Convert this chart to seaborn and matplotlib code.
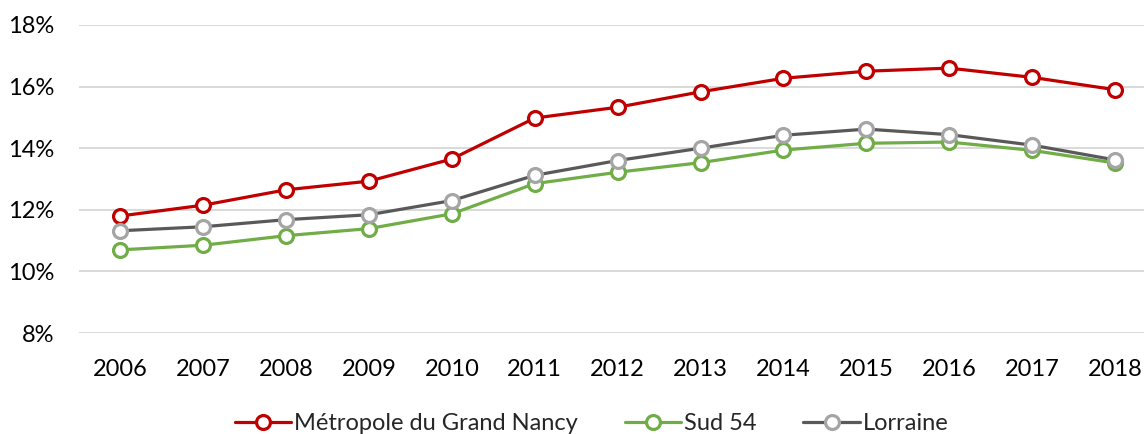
import pandas as pd
import seaborn as sns
import matplotlib.pyplot as plt
from matplotlib.ticker import FuncFormatter

annees = [2006, 2007, 2008, 2009, 2010, 2011, 2012, 2013, 2014, 2015, 2016, 2017, 2018]
nancy = [11.8, 12.15, 12.65, 12.93, 13.65, 14.98, 15.33, 15.83, 16.27, 16.5, 16.6, 16.3, 15.9]
sud54 = [10.7, 10.85, 11.16, 11.39, 11.87, 12.85, 13.22, 13.53, 13.94, 14.16, 14.2, 13.93, 13.52]
lorraine = [11.32, 11.45, 11.68, 11.84, 12.3, 13.12, 13.6, 14.0, 14.42, 14.62, 14.44, 14.1, 13.62]

series = ['Métropole du Grand Nancy', 'Sud 54', 'Lorraine']
couleurs_ligne = ['#C00000', '#70AD47', '#595959']
couleurs_bord = ['#C00000', '#70AD47', '#A5A5A5']

dados = pd.DataFrame({'annee': annees * 3,
                      'valeur': nancy + sud54 + lorraine,
                      'serie': sum([[s] * len(annees) for s in series], [])})

sns.set_style('white')
plt.rcParams['font.family'] = ['Lato', 'DejaVu Sans']

fig = plt.figure(figsize=(11.44, 4.34), dpi=100)
ax = fig.add_axes([0.069, 0.2327, 0.931, 0.7097])

for s, cl, cb in zip(series, couleurs_ligne, couleurs_bord):
    sns.lineplot(data=dados[dados['serie'] == s], x='annee', y='valeur', ax=ax,
                 color=cl, linewidth=2.3, marker='o', markersize=10,
                 markerfacecolor='white', markeredgecolor=cb, markeredgewidth=2.3,
                 label=s, legend=False)

ax.set_xlim(2005.5, 2018.35)
ax.set_ylim(8, 18)
ax.set_xticks(annees)
ax.set_yticks([8, 10, 12, 14, 16, 18])
ax.yaxis.set_major_formatter(FuncFormatter(lambda v, p: f'{v:.0f}%'))
ax.grid(axis='y', color='#D9D9D9', linewidth=1.4)
ax.set_axisbelow(True)
for sp in ax.spines.values():
    sp.set_visible(False)
ax.tick_params(axis='both', length=0, labelsize=17, colors='#000000')
ax.tick_params(axis='y', pad=18)
ax.tick_params(axis='x', pad=19)
ax.set_xlabel('')
ax.set_ylabel('')

h, l = ax.get_legend_handles_labels()
fig.legend(h, l, loc='center', bbox_to_anchor=(0.517, 0.024), ncol=3, frameon=False,
           fontsize=17, handlelength=2.4, columnspacing=2.0, handletextpad=0.1)

fig.savefig('out.png', dpi=100)
